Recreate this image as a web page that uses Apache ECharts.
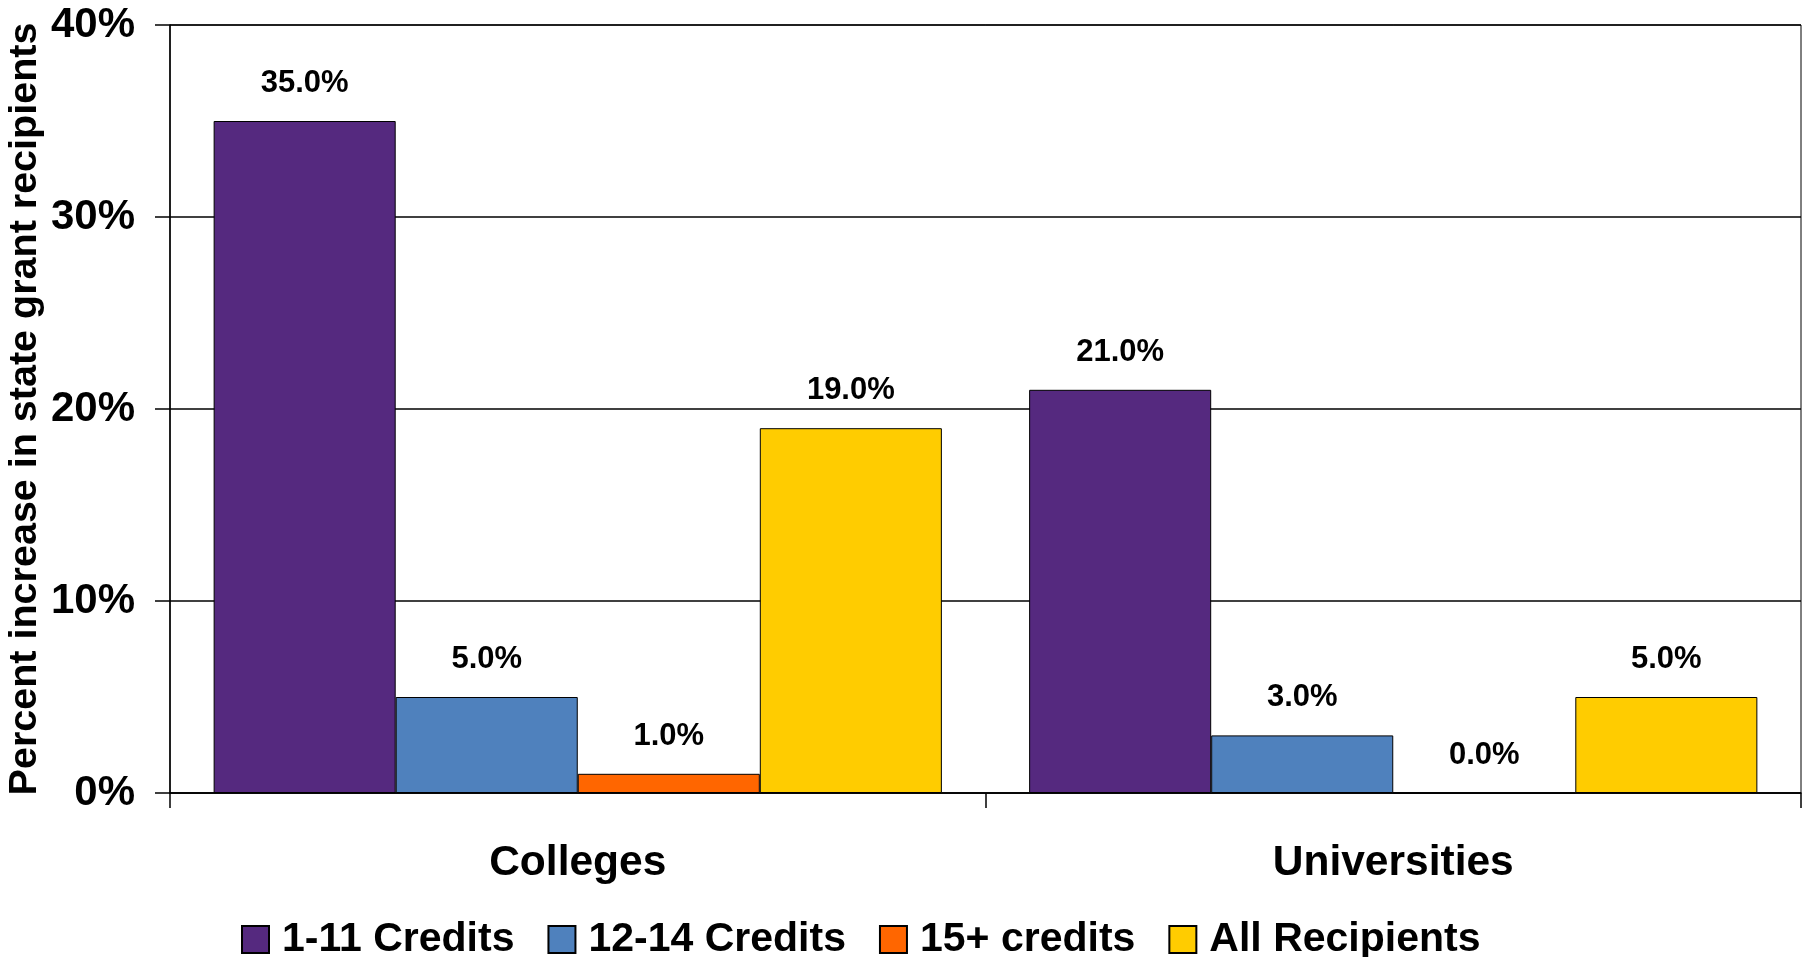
<!DOCTYPE html>
<html>
<head>
<meta charset="utf-8">
<script src="https://cdn.jsdelivr.net/npm/echarts@6/dist/echarts.min.js"></script>
<style>
  html, body { margin: 0; padding: 0; background: #ffffff; }
  #chart { width: 1810px; height: 957px; }
</style>
</head>
<body>
<div id="chart"></div>
<script>
const categories = ['Colleges', 'Universities'];
const seriesNames = ['1-11 Credits', '12-14 Credits', '15+ credits', 'All Recipients'];
const credits1to11 = [35, 21];
const credits12to14 = [5, 3];
const credits15plus = [1, 0];
const allRecipients = [19, 5];
const yTicks = [0, 10, 20, 30, 40];
const yAxisTitle = 'Percent increase in state grant recipients';

const colors = ['#55297F', '#4F81BD', '#FF6600', '#FFCC00'];
const seriesData = [credits1to11, credits12to14, credits15plus, allRecipients];
const FONT = '"Liberation Sans", Arial, sans-serif';

const chart = echarts.init(document.getElementById('chart'), null, { renderer: 'canvas' });

const series = seriesData.map((d, i) => ({
  name: seriesNames[i],
  type: 'bar',
  data: d,
  barGap: '0%',
  barCategoryGap: '10.7%',
  itemStyle: { color: colors[i], borderColor: '#000000', borderWidth: 1 },
  label: {
    show: true,
    position: 'top',
    distance: 22,
    formatter: p => p.value.toFixed(1) + '%',
    fontFamily: FONT,
    fontWeight: 'bold',
    fontSize: 31,
    color: '#000000'
  },
  emphasis: { disabled: true }
}));

chart.setOption({
  animation: false,
  backgroundColor: '#ffffff',
  color: colors,
  grid: {
    left: 170, right: 9, top: 25, bottom: 164,
    containLabel: false,
    outerBoundsMode: 'none',
    show: true, borderColor: '#000000', borderWidth: 1, backgroundColor: 'transparent'
  },
  legend: {
    left: 236,
    top: 914,
    itemWidth: 27,
    itemHeight: 27,
    itemGap: 33,
    icon: 'rect',
    textStyle: { fontFamily: FONT, fontWeight: 'bold', fontSize: 41, color: '#000000', padding: [0, 0, 0, 8] },
    data: seriesNames
  },
  xAxis: {
    type: 'category',
    data: categories,
    axisLine: { show: true, lineStyle: { color: '#000000', width: 1.5 } },
    axisTick: { show: true, length: 15, lineStyle: { color: '#000000', width: 1.5 } },
    axisLabel: {
      margin: 49,
      fontFamily: FONT, fontWeight: 'bold', fontSize: 42.5, color: '#000000'
    }
  },
  yAxis: {
    type: 'value',
    min: 0, max: 40, interval: 10,
    name: yAxisTitle,
    nameLocation: 'middle',
    nameGap: 125,
    nameMoveOverlap: false,
    nameTextStyle: { fontFamily: FONT, fontWeight: 'bold', fontSize: 39.5, color: '#000000' },
    axisLine: { show: true, lineStyle: { color: '#000000', width: 1.5 } },
    axisTick: { show: true, length: 15, lineStyle: { color: '#000000', width: 1.5 } },
    splitLine: { show: true, lineStyle: { color: '#000000', width: 1.5 } },
    axisLabel: {
      margin: 35,
      formatter: v => yTicks.includes(v) ? v + '%' : '',
      fontFamily: FONT, fontWeight: 'bold', fontSize: 42, color: '#000000'
    }
  },
  series: series
});
</script>
</body>
</html>
